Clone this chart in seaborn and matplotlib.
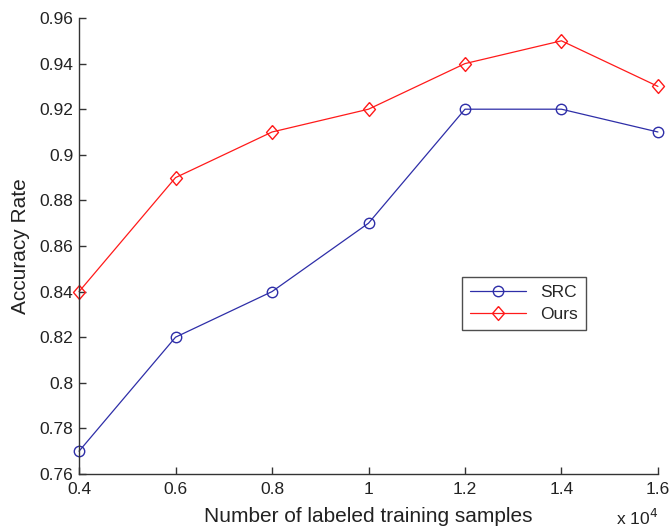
import matplotlib
matplotlib.use("Agg")
import matplotlib.pyplot as plt
import seaborn as sns
import pandas as pd
from matplotlib.colors import to_hex
from matplotlib.ticker import FuncFormatter, MultipleLocator

samples = [4000, 6000, 8000, 10000, 12000, 14000, 16000]
src = [0.77, 0.82, 0.84, 0.87, 0.92, 0.92, 0.91]
ours = [0.84, 0.89, 0.91, 0.92, 0.94, 0.95, 0.93]

df = pd.DataFrame({
    "samples": samples * 2,
    "acc": src + ours,
    "method": ["SRC"] * len(src) + ["Ours"] * len(ours),
})

sns.set_style("ticks")
plt.rcParams['font.family'] = ['Liberation Sans', 'DejaVu Sans']

fig = plt.figure(figsize=(6.7, 5.28), dpi=100)
ax = fig.add_axes([0.118, 0.1023, 0.864, 0.8636])

diamond = [(0, 1), (0.86, 0), (0, -1), (-0.86, 0), (0, 1)]
palette = {"SRC": "#2e2ea8", "Ours": "#ff1a1a"}
sns.lineplot(data=df, x="samples", y="acc", hue="method", style="method",
             markers={"SRC": "o", "Ours": "d"}, dashes=False, palette=palette,
             ax=ax, linewidth=0.9, markersize=8, markerfacecolor="none",
             markeredgewidth=1.0)


def style_line(line):
    col = to_hex(line.get_color())
    line.set_markerfacecolor("none")
    line.set_markeredgecolor(col)
    if col == palette["Ours"]:
        line.set_marker(diamond)
        line.set_markersize(10)
    elif col == palette["SRC"]:
        line.set_markersize(7.5)


for line in ax.lines:
    line.set_clip_on(False)
    style_line(line)

ax.set_xlim(4000, 16000)
ax.set_ylim(0.76, 0.96)
ax.xaxis.set_major_locator(MultipleLocator(2000))
ax.yaxis.set_major_locator(MultipleLocator(0.02))
ax.xaxis.set_major_formatter(FuncFormatter(lambda v, p: "%g" % round(v / 1e4, 2)))
ax.yaxis.set_major_formatter(FuncFormatter(lambda v, p: "%g" % round(v, 2)))

for s in ["top", "right"]:
    ax.spines[s].set_visible(False)
for s in ["left", "bottom"]:
    ax.spines[s].set_color("#333333")
    ax.spines[s].set_linewidth(1.0)
ax.tick_params(direction="in", length=5, width=1.0, color="#333333",
               labelsize=12.5, labelcolor="#222222")
ax.tick_params(axis="y", pad=4)
ax.tick_params(axis="x", pad=6)

ax.set_xlabel("Number of labeled training samples", fontsize=15, color="#222222", labelpad=7)
ax.set_ylabel("Accuracy Rate", fontsize=15, color="#222222", labelpad=7)

ax.text(1.0, -0.096, "x 10$^{4}$", transform=ax.transAxes, ha="right", va="center",
        fontsize=12.5, color="#222222")

handles, labels = ax.get_legend_handles_labels()
leg = ax.legend(handles, labels, loc="lower left", bbox_to_anchor=(0.646, 0.296),
                fontsize=12.5, frameon=True, fancybox=False, edgecolor="#222222",
                handlelength=3.2, borderpad=0.5, labelspacing=0.35, handletextpad=0.8)
leg.get_frame().set_linewidth(1.0)
for h in leg.legend_handles:
    style_line(h)

fig.savefig("out.png", dpi=100)
